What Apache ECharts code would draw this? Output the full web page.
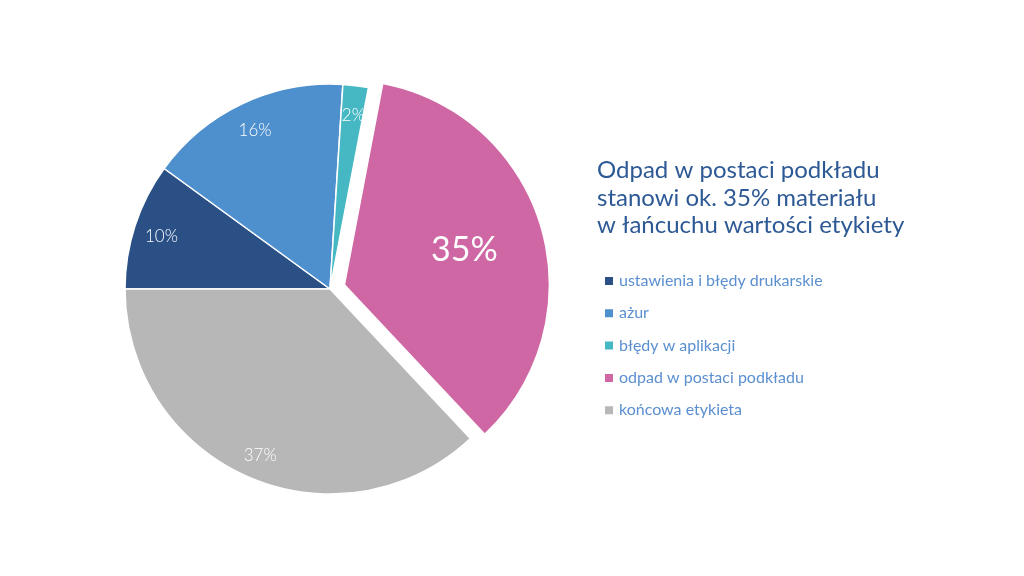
<!DOCTYPE html>
<html><head><meta charset="utf-8">
<script src="https://cdn.jsdelivr.net/npm/echarts@6/dist/echarts.min.js"></script>
<style>html,body{margin:0;padding:0;background:#fff}#c{width:1024px;height:576px}</style>
</head><body><div id="c"></div>
<script>
const categories = ['ustawienia i błędy drukarskie', 'ażur', 'błędy w aplikacji', 'odpad w postaci podkładu', 'końcowa etykieta'];
const values = [10, 16, 2, 35, 37];
const colors = ['#2a5086', '#4e8fcd', '#45b8c3', '#ce67a3', '#b8b7b8'];
const highlighted = 'odpad w postaci podkładu';
const titleText = 'Odpad w postaci podkładu\nstanowi ok. 35% materiału\nw łańcuchu wartości etykiety';

const FONT = 'Lato';
const center = [330, 289];
const R = 205;

const mainData = categories.map((c, i) => ({
  name: c, value: values[i], selected: c === highlighted,
  itemStyle: { color: colors[i] }
}));
const smallLabelData = categories.map((c, i) => ({
  name: c, value: values[i], selected: c === highlighted,
  label: { show: c !== highlighted }
}));
const bigLabelData = categories.map((c, i) => ({
  name: c, value: values[i], selected: c === highlighted,
  label: { show: c === highlighted }
}));
const common = {
  type: 'pie', center: center, startAngle: 180, clockwise: true,
  selectedMode: 'multiple', selectedOffset: 15, animation: false,
  avoidLabelOverlap: false
};
const chart = echarts.init(document.getElementById('c'), null, { renderer: 'canvas' });
chart.setOption({
  backgroundColor: '#ffffff',
  title: {
    text: titleText, left: 592, top: 152,
    textStyle: { fontFamily: FONT, fontWeight: 'normal', fontSize: 24, lineHeight: 27.5, color: '#2d5995' }
  },
  legend: {
    orient: 'vertical', left: 603, top: 273, padding: 0,
    data: categories, icon: 'rect', itemWidth: 10, itemHeight: 10, itemGap: 16.3,
    selectedMode: false,
    textStyle: { fontFamily: FONT, fontSize: 16, lineHeight: 16, color: '#5b8fd0', padding: [0, 0, 0, 0] }
  },
  series: [
    Object.assign({}, common, {
      name: 'main', radius: [0, R], data: mainData,
      itemStyle: { borderColor: '#ffffff', borderWidth: 1.5 },
      label: { show: false }, labelLine: { show: false },
      emphasis: { disabled: true }
    }),
    Object.assign({}, common, {
      name: 'labelsSmall', radius: [R * 0.71, R], data: smallLabelData, silent: true,
      itemStyle: { color: 'rgba(0,0,0,0)', borderWidth: 0 },
      label: { position: 'inside', formatter: '{c}%', color: '#ffffff', fontFamily: FONT, fontSize: 17, fontWeight: 300, offset: [1, 3] },
      labelLine: { show: false }, emphasis: { disabled: true }
    }),
    Object.assign({}, common, {
      name: 'labelsBig', radius: [R * 0.19, R], data: bigLabelData, silent: true,
      itemStyle: { color: 'rgba(0,0,0,0)', borderWidth: 0 },
      label: { position: 'inside', formatter: '{c}%', color: '#ffffff', fontFamily: FONT, fontSize: 34, fontWeight: 'normal', offset: [0, 2] },
      labelLine: { show: false }, emphasis: { disabled: true }
    })
  ]
});
</script></body></html>
